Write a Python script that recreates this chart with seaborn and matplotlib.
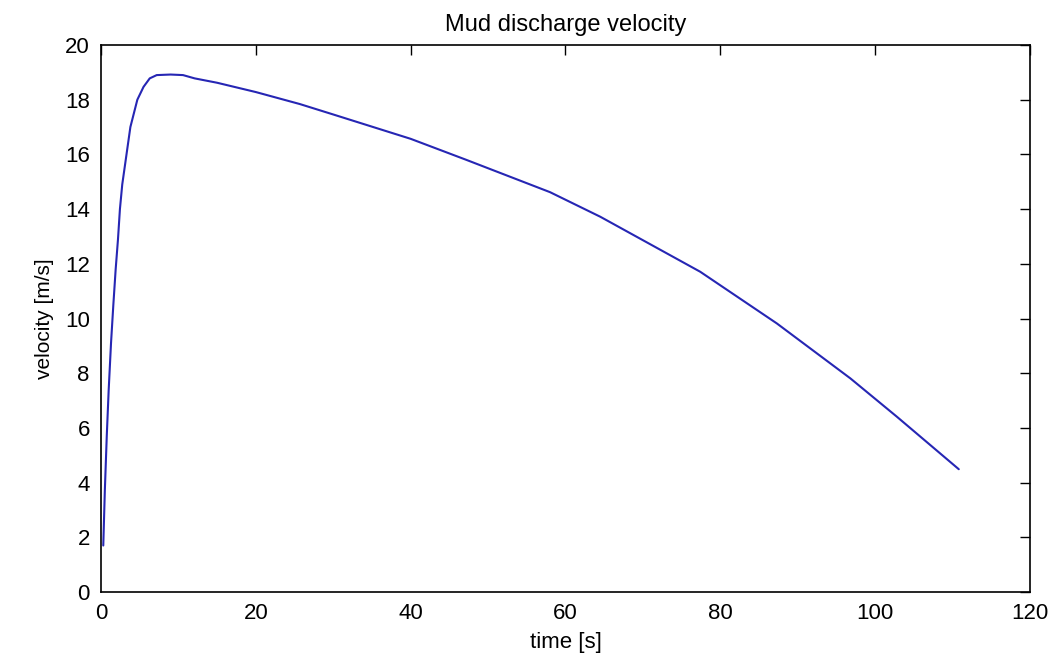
import matplotlib
matplotlib.use("Agg")
import matplotlib.pyplot as plt
import seaborn as sns
import pandas as pd

time_s = [0.3, 0.5, 0.75, 1.0, 1.3, 1.6, 1.9, 2.2, 2.45, 2.75, 3.3, 3.8, 4.7, 5.5, 6.3,
          7.2, 9.0, 10.6, 12.1, 15.0, 20.0, 25.7, 30.0, 40.0, 47.2, 51.5, 58.0, 64.5, 77.4,
          87.3, 96.8, 102.8, 110.8]
velocity = [1.7, 3.7, 5.7, 7.4, 9.1, 10.5, 11.8, 12.9, 14.0, 14.9, 16.0, 17.0, 18.0, 18.47, 18.78,
            18.9, 18.92, 18.9, 18.78, 18.62, 18.28, 17.84, 17.46, 16.57, 15.80, 15.33, 14.62,
            13.72, 11.71, 9.82, 7.81, 6.41, 4.49]
x_ticks = [0, 20, 40, 60, 80, 100, 120]
y_ticks = [0, 2, 4, 6, 8, 10, 12, 14, 16, 18, 20]

df = pd.DataFrame({"time": time_s, "velocity": velocity})

sns.set_style("white")
plt.rcParams["font.family"] = ["Liberation Sans", "DejaVu Sans"]
plt.rcParams["text.color"] = "black"
plt.rcParams["axes.labelcolor"] = "black"

fig = plt.figure(figsize=(10.56, 6.57), dpi=100)
ax = fig.add_axes([0.0956, 0.0989, 0.8798, 0.8326])
sns.lineplot(data=df, x="time", y="velocity", ax=ax, color="#2626b4", linewidth=1.5,
             estimator=None, sort=False)

ax.set_xlim(0, 120)
ax.set_ylim(0, 20)
ax.set_xticks(x_ticks)
ax.set_yticks(y_ticks)
ax.tick_params(direction="in", length=7, width=1, top=True, right=True,
               labelsize=16, colors="black", pad=8)
for s in ax.spines.values():
    s.set_color("black")
    s.set_linewidth(1.2)
    s.set_visible(True)
ax.set_title("Mud discharge velocity", fontsize=17, pad=10, color="black")
ax.set_xlabel("time [s]", fontsize=16, labelpad=6, color="black")
ax.set_ylabel("velocity [m/s]", fontsize=15, labelpad=8, color="black")
ax.grid(False)

fig.savefig("out.png", dpi=100, facecolor="white")
